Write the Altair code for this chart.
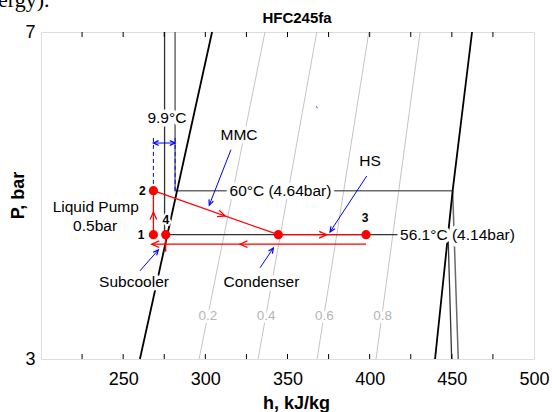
import math
import altair as alt
import pandas as pd

# ---------------- data ----------------
# saturation dome (h in kJ/kg, P in bar)
liq_h = [260.2, 304.1]
liq_P = [3.0, 7.0]
vap_h = [439.8, 450.5, 462.3]
vap_P = [3.0, 4.64, 7.0]

# constant-quality lines
qual_lbl = ["0.2", "0.4", "0.6", "0.8"]
qual_h_low = [296.2, 332.1, 368.0, 403.9]   # at P = 3 bar
qual_h_high = [336.3, 367.8, 399.5, 430.7]  # at P = 7 bar
qual_lbl_h = [301.5, 337.0, 372.4, 407.9]
qual_lbl_P = [3.35, 3.35, 3.35, 3.35]

# isotherms
iso60_h = [281.6, 281.6, 450.5, 453.9]
iso60_P = [7.0, 4.64, 4.64, 3.0]
iso56_h = [275.2, 275.2, 447.7, 449.9]
iso56_P = [7.0, 4.14, 4.14, 3.0]

# cycle state points
pt_name = ["1", "2", "3", "", "4"]
pt_h = [268.4, 268.4, 397.8, 344.4, 275.9]
pt_P = [4.14, 4.64, 4.14, 4.14, 4.14]
pt_lbl_h = [260.9, 261.6, 397.2, 0, 275.9]
pt_lbl_P = [4.14, 4.64, 4.32, 0, 4.30]

# red cycle segments: (h0, P0, h1, P1)
cyc_h0 = [268.4, 268.4, 344.4, 397.8, 275.9]
cyc_P0 = [4.14, 4.64, 4.14, 4.04, 4.14]
cyc_h1 = [268.4, 344.4, 397.8, 267.4, 275.9]
cyc_P1 = [4.64, 4.14, 4.14, 4.04, 3.96]
# arrowheads on cycle: segment index and fraction along it
arr_seg = [0, 1, 2, 3, 3]
arr_t = [0.514, 0.574, 0.55, 0.588, 1.0]

# blue annotation arrows (start -> tip)
ba_h0 = [315.6, 398.2, 260.2, 333.3, 275.0, 275.0]
ba_P0 = [5.16, 4.82, 3.77, 3.80, 5.25, 5.25]
ba_h1 = [302.4, 375.9, 271.4, 341.4, 268.4, 281.6]
ba_P1 = [4.47, 4.17, 3.98, 4.00, 5.25, 5.25]
# blue dashed guides of the 9.9 degC span
dash_h = [268.4, 281.6]
dash_Ptop = [5.32, 5.32]
dash_Pbot = [4.64, 4.64]

# annotation texts
ann_text = ["9.9°C", "MMC", "HS", "60°C (4.64bar)", "Liquid Pump", "0.5bar",
            "Subcooler", "Condenser"]
ann_h = [276.6, 320.5, 400.2, 345.7, 233.3, 232.9, 256.6, 334.1]
ann_P = [5.60, 5.36, 5.01, 4.64, 4.45, 4.23, 3.66, 3.66]
ann2_text = ["56.1°C (4.14bar)"]
ann2_h = [418.5]
ann2_P = [4.14]

chart_title = ["HFC245fa"]
page_text = ["ergy)."]

x_ticks = [225, 250, 275, 300, 325, 350, 375, 400, 425, 450, 475]
x_labels = [250, 300, 350, 400, 450, 500]
y_labels = [3, 7]

# ---------------- layout ----------------
W, H = 493, 327
HMIN, HMAX, PMIN, PMAX = 200, 500, 3, 7
FONT = "Liberation Sans"


def to_px(h, P):
    x = (h - HMIN) / (HMAX - HMIN) * W
    y = H * (math.log(PMAX) - math.log(P)) / (math.log(PMAX) - math.log(PMIN))
    return x, y


def angle(h0, P0, h1, P1):
    x0, y0 = to_px(h0, P0)
    x1, y1 = to_px(h1, P1)
    return math.degrees(math.atan2(y1 - y0, x1 - x0)) % 360


xs = alt.Scale(domain=[HMIN, HMAX], nice=False, zero=False)
ys = alt.Scale(type="log", domain=[PMIN, PMAX], nice=False)
X = alt.X("h:Q", scale=xs, axis=alt.Axis(
    values=x_labels, ticks=False, domain=False, grid=False,
    labelFontSize=18, labelFont=FONT, labelColor="black", labelPadding=11,
    labelFlush=False, labelOverlap=False, format="d",
    title="h, kJ/kg", titleFont=FONT, titleFontSize=18, titleFontWeight="bold",
    titleColor="black", titleX=255, titleY=44, titleBaseline="middle", titleAlign="center"))
Y = alt.Y("P:Q", scale=ys, axis=alt.Axis(
    values=y_labels, ticks=False, domain=False, grid=False,
    labelFontSize=18, labelFont=FONT, labelColor="black", labelPadding=6,
    labelFlush=False, labelOverlap=False, format="d",
    title="P, bar", titleFont=FONT, titleFontSize=18, titleFontWeight="bold",
    titleColor="black", titleX=-23, titleY=163, titleAngle=270,
    titleBaseline="middle", titleAlign="center"))


def lines_df(groups):
    rows = []
    for g, (hs, Ps) in enumerate(groups):
        for i, (h, P) in enumerate(zip(hs, Ps)):
            rows.append({"h": h, "P": P, "seg": g, "ord": i})
    return pd.DataFrame(rows)


def line_layer(df, **kw):
    return alt.Chart(df).mark_line(**kw).encode(
        x=X, y=Y, detail="seg:N", order="ord:Q")


layers = []

# quality lines
q_df = lines_df([([lo, hi], [PMIN, PMAX]) for lo, hi in zip(qual_h_low, qual_h_high)])
layers.append(line_layer(q_df, color="#c4c4c4", strokeWidth=1))

# isotherms
layers.append(line_layer(lines_df([(iso60_h, iso60_P)]), color="#6a6a6a", strokeWidth=1.5))
layers.append(line_layer(lines_df([(iso56_h, iso56_P)]), color="#333333", strokeWidth=1.3))

# saturation dome
layers.append(line_layer(lines_df([(liq_h, liq_P), (vap_h, vap_P)]),
                         color="black", strokeWidth=1.8))

# inward ticks (top and bottom)
tick_df = pd.DataFrame({"h": x_ticks})
layers.append(alt.Chart(tick_df).mark_rule(color="black", strokeWidth=1).encode(
    x=X, y=alt.value(H), y2=alt.value(H - 5)))
layers.append(alt.Chart(tick_df).mark_rule(color="black", strokeWidth=1).encode(
    x=X, y=alt.value(0), y2=alt.value(5)))

# blue dashed guides
dash_df = lines_df([([h, h], [t, b]) for h, t, b in zip(dash_h, dash_Ptop, dash_Pbot)])
layers.append(line_layer(dash_df, color="#0000ff", strokeWidth=1, strokeDash=[4, 3]))

# blue arrows
ba_df = lines_df([([a, b], [c, d]) for a, c, b, d in zip(ba_h0, ba_P0, ba_h1, ba_P1)])
layers.append(line_layer(ba_df, color="#0000ff", strokeWidth=1))
ba_tip = pd.DataFrame({
    "h": ba_h1, "P": ba_P1,
    "ang": [angle(a, c, b, d) for a, c, b, d in zip(ba_h0, ba_P0, ba_h1, ba_P1)]})
CHEV = "M-1,-0.45L0,0L-1,0.45"
layers.append(alt.Chart(ba_tip).mark_point(
    shape=CHEV, filled=False, color="#0000ff", strokeWidth=1.2, size=110, opacity=1
).encode(x=X, y=Y, angle=alt.Angle("ang:Q", scale=None)))

# tiny blue speck
speck_df = lines_df([([367.4, 368.3], [5.77, 5.75])])
layers.append(line_layer(speck_df, color="#0000ff", strokeWidth=1))

# red cycle lines
cyc_df = lines_df([([a, b], [c, d]) for a, c, b, d in zip(cyc_h0, cyc_P0, cyc_h1, cyc_P1)])
layers.append(line_layer(cyc_df, color="#ff0000", strokeWidth=1.3))

# red arrowheads
rows = []
for s, t in zip(arr_seg, arr_t):
    h0, P0, h1, P1 = cyc_h0[s], cyc_P0[s], cyc_h1[s], cyc_P1[s]
    h = h0 + t * (h1 - h0)
    P = math.exp(math.log(P0) + t * (math.log(P1) - math.log(P0)))
    rows.append({"h": h, "P": P, "ang": angle(h0, P0, h1, P1)})
layers.append(alt.Chart(pd.DataFrame(rows)).mark_point(
    shape=CHEV, filled=False, color="#ff0000", strokeWidth=1.3, size=220, opacity=1
).encode(x=X, y=Y, angle=alt.Angle("ang:Q", scale=None)))

# red state points
pts_df = pd.DataFrame({"h": pt_h, "P": pt_P})
layers.append(alt.Chart(pts_df).mark_circle(color="#ff0000", size=85, opacity=1).encode(x=X, y=Y))


def text_layers(df, color, halo=6, **kw):
    out = []
    out.append(alt.Chart(df).mark_text(color="white", stroke="white", strokeWidth=halo,
                                       strokeJoin="round", **kw).encode(x=X, y=Y, text="t:N"))
    out.append(alt.Chart(df).mark_text(color=color, **kw).encode(x=X, y=Y, text="t:N"))
    return out


# quality labels
ql_df = pd.DataFrame({"h": qual_lbl_h, "P": qual_lbl_P, "t": qual_lbl})
layers += text_layers(ql_df, "#b4b4b4", halo=6, font=FONT, fontSize=13.5,
                      baseline="middle", align="center")

# annotations
an_df = pd.DataFrame({"h": ann_h, "P": ann_P, "t": ann_text})
layers += text_layers(an_df, "black", halo=7, font=FONT, fontSize=15.5,
                      baseline="middle", align="center")
an2_df = pd.DataFrame({"h": ann2_h, "P": ann2_P, "t": ann2_text})
layers += text_layers(an2_df, "black", halo=7, font=FONT, fontSize=15.5,
                      baseline="middle", align="left")

# state point labels
pl_df = pd.DataFrame({"h": pt_lbl_h, "P": pt_lbl_P, "t": pt_name})
pl_df = pl_df[pl_df["t"] != ""]
layers += text_layers(pl_df, "black", halo=4, font=FONT, fontSize=12, fontWeight="bold",
                      baseline="middle", align="center")

# chart title (drawn as text above the frame)
layers.append(alt.Chart(pd.DataFrame({"t": chart_title})).mark_text(
    font=FONT, fontSize=15, fontWeight="bold", align="center", baseline="middle", color="black"
).encode(x=alt.value(256), y=alt.value(-14), text="t:N"))

# clipped text of the source page above the figure
layers.append(alt.Chart(pd.DataFrame({"t": page_text})).mark_text(
    font="Liberation Serif", fontSize=22, align="left", baseline="alphabetic", color="black"
).encode(x=alt.value(-43), y=alt.value(-25), text="t:N"))

chart = alt.layer(*layers).properties(
    width=W, height=H,
    padding={"left": 41, "top": 32, "right": 18, "bottom": 53},
    autosize=alt.AutoSizeParams(type="none"),
).configure_view(stroke="black", strokeWidth=2).configure(background="white")

chart.save("out.html", embed_options={"renderer": "svg", "actions": False})
